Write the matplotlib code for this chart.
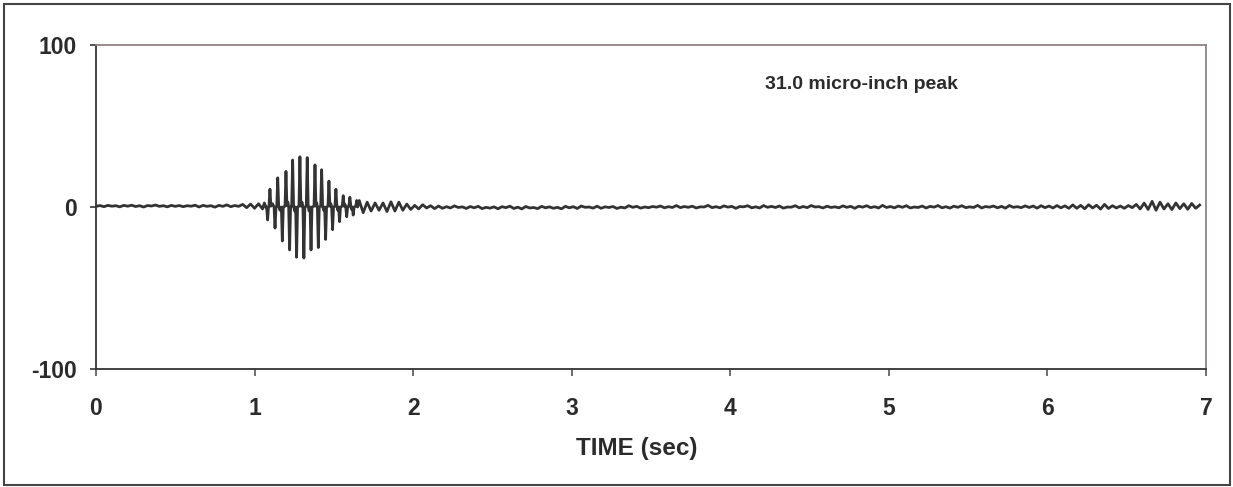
import numpy as np
import matplotlib
matplotlib.use("Agg")
import matplotlib.pyplot as plt
from matplotlib.patches import Rectangle

# ---------------- data ----------------
# quiet segment before the burst, sampled every 0.025 s from t = 0.00
pre_t0, pre_dt = 0.0, 0.025
pre_vals = [0.4, 0.9, 0.2, 1.0, 0.5, 0.8, 0.1, 1.0, 0.5, 1.1,
            0.3, 0.8, 0.0, 0.9, 0.6, 1.2, 0.4, 0.8, 0.1, 1.0,
            0.4, 0.9, 0.2, 0.8, 0.5, 1.1, 0.0, 1.0, 0.4, 0.8,
            -0.1, 1.0, 0.4, 1.3, 0.2, 0.9, 0.4, 1.6, -0.4, 1.8,
            -0.8, 2.0, -1.2]

# the burst (time in s, displacement in micro-inch)
burst_t = [1.062, 1.072, 1.076,
           1.082, 1.088, 1.091, 1.097, 1.103, 1.113, 1.123,
           1.129, 1.135, 1.140, 1.146, 1.152, 1.160, 1.169,
           1.175, 1.181, 1.192, 1.198, 1.204, 1.210, 1.215,
           1.221, 1.227, 1.234, 1.240, 1.246, 1.253, 1.259,
           1.265, 1.271, 1.280, 1.286, 1.292, 1.299, 1.305,
           1.311, 1.317, 1.326, 1.332, 1.338, 1.344, 1.350,
           1.356, 1.362, 1.375, 1.381, 1.387, 1.392, 1.396,
           1.402, 1.408, 1.417, 1.423, 1.429, 1.436, 1.442,
           1.448, 1.454, 1.463, 1.469, 1.475, 1.481, 1.486,
           1.492, 1.498, 1.507, 1.513, 1.519, 1.525, 1.530,
           1.536, 1.542, 1.553, 1.559, 1.565, 1.571, 1.575,
           1.581, 1.587, 1.595, 1.601, 1.607, 1.612, 1.616,
           1.622, 1.628, 1.638, 1.644, 1.650]
burst_v = [2.5, -0.5, 0.0,
           -8.0, 0.0, 0.5, 11.0, 0.5, 2.0, 0.0,
           -13.0, 0.0, 0.5, 18.0, 0.5, -2.0, 0.0,
           -21.0, 0.0, 0.5, 22.0, 1.0, 3.0, 0.0,
           -26.5, 0.0, 0.5, 29.0, 0.5, -2.5, 0.0,
           -31.0, 0.0, 0.5, 31.0, 0.5, 3.0, 0.0,
           -31.5, 0.0, 0.5, 30.5, 0.5, -2.5, 0.0,
           -26.5, 0.0, 0.5, 26.0, 0.5, 2.5, 0.0,
           -25.0, 0.0, 0.5, 23.0, 0.5, -2.0, 0.0,
           -20.0, 0.0, 0.5, 16.0, 0.5, 2.0, 0.0,
           -14.0, 0.0, 0.5, 11.0, 0.5, -2.0, 0.0,
           -9.0, 0.0, 0.5, 7.0, 0.5, 1.5, 0.0,
           -6.0, 0.0, 0.5, 6.0, 0.5, -1.5, 0.0,
           -5.0, 0.0, 0.5, 4.0, 0.0]

# ring-down and quiet tail, sampled every 0.025 s from t = 1.66
post_t0, post_dt = 1.66, 0.025
post_vals = [4.0, -3.5, 3.0, -2.5, 2.5, -2.0, 2.5, -2.8, 3.2, -2.5,
             3.0, -2.0, 1.8, -1.5, 1.0, -1.2, 1.4, -0.6, 0.8, -1.0,
             0.6, -0.8, 0.2, -0.6, 0.7, -0.3, 0.1, -0.9, 0.3, -0.5,
             0.4, -1.0, -0.2, -0.7, 0.1, -1.1, 0.2, -0.4, 0.5, -0.9,
             -0.1, -1.2, 0.3, -0.6, -0.3, -1.0, 0.4, -0.5, 0.1, -0.8,
             -0.2, -1.1, 0.4, -0.5, 0.2, -0.9, 0.6, -0.2, 0.0, -0.7,
             0.5, -0.8, 0.1, -0.3, 0.3, -0.9, -0.1, -0.6, 0.8, -0.2,
             0.4, -0.7, 0.0, -0.4, 0.3, -0.1, 0.6, -0.5, 0.2, -0.3,
             0.9, -0.4, 0.3, -0.2, 0.5, -0.6, 0.1, 0.0, 1.0, -0.4,
             0.2, -0.5, 0.7, -0.1, 0.4, -0.8, 0.3, 0.1, 0.8, -0.5,
             0.1, -0.6, 0.9, -0.2, 0.4, -0.3, 0.6, -0.7, 0.0, -0.1,
             0.8, -0.5, 0.3, -0.4, 0.9, 0.0, 0.2, -0.6, 0.5, -0.3,
             0.1, -0.5, 0.7, -0.2, 0.4, -0.8, 0.5, -0.1, 0.8, -0.4,
             0.2, -0.6, 1.0, -0.3, 0.3, -0.5, 0.6, -0.2, 0.8, -0.6,
             0.0, -0.3, 0.6, -0.6, 0.4, -0.1, 0.9, -0.5, 0.2, -0.7,
             0.5, -0.2, 0.8, -0.4, 0.1, -0.3, 1.0, -0.6, 0.3, -0.1,
             0.6, -0.5, 0.4, -0.7, 0.9, -0.2, 0.2, -0.4, 0.7, -0.3,
             0.6, -0.7, 0.8, -0.4, 0.6, -0.6, 0.9, -0.5, 0.7, -0.8,
             1.3, -0.8, 1.0, -1.1, 1.4, -0.6, 1.1, -1.3, 1.6, -0.9,
             0.8, -0.6, 0.6, -0.8, 0.9, -0.4, 1.6, -1.2, 2.4, -1.5,
             3.5, -2.0, 3.0, -1.2, 2.0, -1.6, 2.5, -1.0, 2.0, -1.4,
             2.2, -0.8, 1.2]

x_ticks = [0, 1, 2, 3, 4, 5, 6, 7]
y_ticks = [-100, 0, 100]
x_label = "TIME (sec)"
note = "31.0 micro-inch peak"

# ---------------- assemble series ----------------
t = np.concatenate([pre_t0 + pre_dt * np.arange(len(pre_vals)),
                    np.array(burst_t),
                    post_t0 + post_dt * np.arange(len(post_vals))])
y = np.concatenate([pre_vals, burst_v, post_vals])

# ---------------- drawing ----------------
plt.rcParams['font.family'] = ['Liberation Sans', 'DejaVu Sans']
txt = '#2b2b2b'

fig = plt.figure(figsize=(12.33, 4.87), dpi=100)
fig.patch.set_facecolor('white')
W, H = 1233, 487
ax = fig.add_axes([96 / W, 1 - 369 / H, (1206 - 96) / W, (369 - 45) / H])

ax.plot(t, y, color='#333333', lw=2.0, solid_joinstyle='round')

ax.set_xlim(0, 7)
ax.set_ylim(-100, 100)
ax.set_xticks(x_ticks)
ax.set_yticks(y_ticks)
ax.set_xticklabels([str(v) for v in x_ticks])
ax.set_yticklabels([str(v) for v in y_ticks])

for side in ('left', 'bottom'):
    ax.spines[side].set_color('#333333')
    ax.spines[side].set_linewidth(1.3)
for side in ('top', 'right'):
    ax.spines[side].set_color('#8c8282')
    ax.spines[side].set_linewidth(1.3)

ax.tick_params(axis='x', direction='out', length=5, width=1.2, colors='#555555',
               labelcolor=txt, labelsize=16.5, pad=15)
ax.tick_params(axis='y', direction='out', length=4.5, width=1.2, colors='#333333',
               labelcolor=txt, labelsize=16.5, pad=9)
for lab in ax.get_xticklabels() + ax.get_yticklabels():
    lab.set_fontweight('bold')

ax.set_xlabel(x_label, fontsize=17.5, fontweight='bold', color=txt)
ax.xaxis.set_label_coords(0.487, -0.245)
ax.xaxis.label.set_va('center')

ax.text(4.22, 75.5, note, fontsize=14, fontweight='bold', color=txt,
        ha='left', va='center')

# outer chart border
fig.patches.append(Rectangle((4 / W, 2 / H), (1230 - 4) / W, (483 - 2) / H,
                             transform=fig.transFigure, fill=False,
                             edgecolor='#444444', lw=1.5))

fig.savefig('out.png', dpi=100, facecolor='white')
